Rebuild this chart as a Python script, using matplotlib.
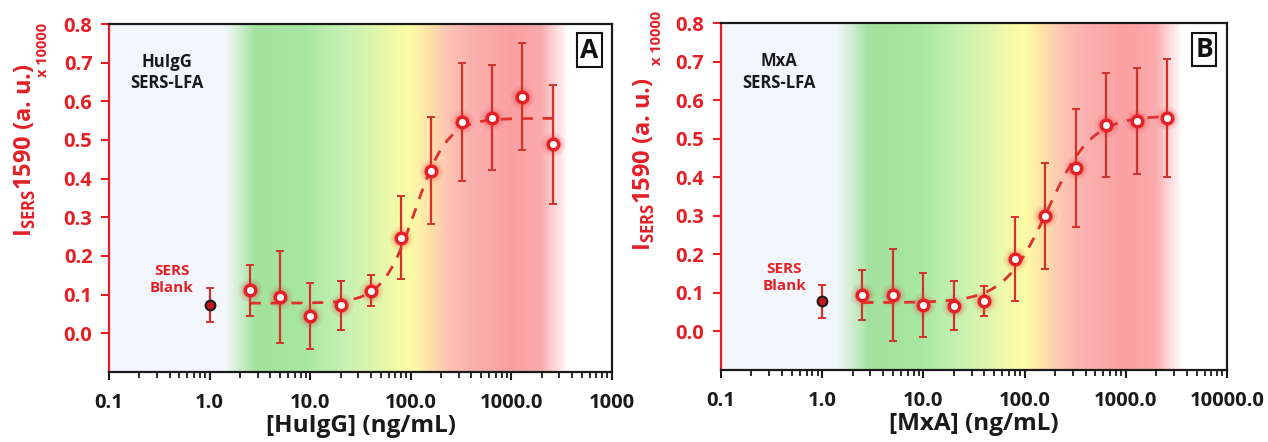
import numpy as np
import matplotlib
matplotlib.use("Agg")
import matplotlib.pyplot as plt
from matplotlib.colors import LinearSegmentedColormap, to_rgb

plt.rcParams['font.family'] = ['Open Sans', 'DejaVu Sans']
plt.rcParams['font.weight'] = 'bold'
plt.rcParams['mathtext.fontset'] = 'custom'
plt.rcParams['mathtext.rm'] = 'Open Sans:bold'
plt.rcParams['mathtext.bf'] = 'Open Sans:bold'

# ---- data -------------------------------------------------------------
conc = [2.5, 5, 10, 20, 40, 80, 160, 320, 640, 1280, 2560]   # ng/mL
blank_x = 1.0

hu_y = [0.111, 0.094, 0.044, 0.072, 0.110, 0.247, 0.421, 0.547, 0.558, 0.612, 0.489]
hu_err = [0.065, 0.120, 0.085, 0.063, 0.040, 0.107, 0.139, 0.152, 0.136, 0.139, 0.154]
hu_blank, hu_blank_err = 0.072, 0.044
# Hill fit: bottom, top, EC50, slope
hu_fit = (0.078, 0.556, 110.0, 2.7)

mx_y = [0.094, 0.094, 0.069, 0.067, 0.078, 0.188, 0.299, 0.424, 0.536, 0.547, 0.554]
mx_err = [0.065, 0.120, 0.084, 0.063, 0.039, 0.108, 0.138, 0.153, 0.136, 0.138, 0.154]
mx_blank, mx_blank_err = 0.078, 0.043
mx_fit = (0.075, 0.560, 170.0, 2.0)

x_ticks = [0.1, 1, 10, 100, 1000, 10000]
hu_xticklabels = ['0.1', '1.0', '10.0', '100.0', '1000.0', '1000']
mx_xticklabels = ['0.1', '1.0', '10.0', '100.0', '1000.0', '10000.0']
y_ticks = [0.0, 0.1, 0.2, 0.3, 0.4, 0.5, 0.6, 0.7, 0.8]

RED = '#e41f26'
ERR = '#d2322a'
INK = '#1a1a1a'

# background colour bands along log10(concentration)
band_stops = [(-1.0, '#f3f6fa'), (0.15, '#f3f6fa'), (0.45, '#a2e29d'),
              (0.95, '#a7e6a1'), (1.3, '#c3f0b1'), (1.6, '#dbf5ae'),
              (1.85, '#f2f9a8'), (2.0, '#fcfca6'), (2.2, '#fde0a9'),
              (2.38, '#fdc3b2'), (2.6, '#fbb0b0'), (3.0, '#fa9fa2'),
              (3.3, '#fbabad'), (3.57, '#ffffff'), (4.0, '#ffffff')]


def hill(x, bottom, top, ec50, slope):
    return bottom + (top - bottom) / (1.0 + (ec50 / x) ** slope)


def draw_bands(ax, n=500):
    pos = [(s + 1.0) / 5.0 for s, _ in band_stops]
    cmap = LinearSegmentedColormap.from_list(
        'bands', list(zip(pos, [to_rgb(c) for _, c in band_stops])))
    edges = np.logspace(-1, 4, n + 1)
    colors = cmap((np.arange(n) + 0.5) / n)
    for i in range(n):
        ax.axvspan(edges[i], edges[i + 1], color=colors[i], lw=0, zorder=0)


def panel(ax, y, err, blank, blank_err, fit, xticklabels, name, letter):
    ax.set_xscale('log')
    ax.set_xlim(0.1, 10000)
    ax.set_ylim(-0.1, 0.8)
    draw_bands(ax)

    # glow halos behind the points
    for s, a in [(300, 0.08), (190, 0.13), (120, 0.24)]:
        ax.scatter(conc, y, s=s, color=RED, alpha=a, lw=0, zorder=2)
    ax.errorbar(conc, y, yerr=err, fmt='none', ecolor=ERR, elinewidth=1.6,
                capsize=3, capthick=1.4, zorder=3)
    ax.errorbar([blank_x], [blank], yerr=[blank_err], fmt='none', ecolor=ERR,
                elinewidth=1.6, capsize=3, capthick=1.4, zorder=3)
    xf = np.logspace(np.log10(conc[0]), np.log10(conc[-1]), 300)
    ax.plot(xf, hill(xf, *fit), ls=(0, (4, 3.5)), color='#e0302c', lw=2.0, zorder=4)
    ax.plot(conc, y, 'o', ms=7.5, mfc='white', mec=RED, mew=2.4, zorder=5)
    ax.plot([blank_x], [blank], 'o', ms=7, mfc='#c01818', mec=INK, mew=1.5, zorder=5)

    ax.set_xticks(x_ticks)
    ax.set_xticklabels(xticklabels)
    ax.set_yticks(y_ticks)
    ax.set_yticklabels([f'{v:.1f}' for v in y_ticks])
    ax.tick_params(axis='x', which='major', length=6, width=1.5, colors=INK,
                   labelsize=14.5, pad=9)
    ax.tick_params(axis='x', which='minor', length=4, width=1.3, colors=INK)
    ax.tick_params(axis='y', which='major', length=6, width=1.5, colors=RED,
                   labelcolor=RED, labelsize=14.5, pad=6)
    for side in ['top', 'right', 'bottom']:
        ax.spines[side].set_color(INK)
        ax.spines[side].set_linewidth(1.6)
    ax.spines['left'].set_color(RED)
    ax.spines['left'].set_linewidth(1.6)
    for lab in ax.get_xticklabels() + ax.get_yticklabels():
        lab.set_fontweight('bold')

    ax.set_xlabel(f'[{name}] (ng/mL)', fontsize=17.5, fontweight='bold',
                  color=INK, labelpad=1)
    ax.text(0.115, 0.86, f'{name}\nSERS-LFA', transform=ax.transAxes,
            ha='center', va='center', fontsize=12, fontweight='bold',
            color=INK, linespacing=1.25)
    ax.text(0.42, 0.14, 'SERS\nBlank', ha='center', va='center', fontsize=11,
            fontweight='bold', color=RED, linespacing=1.3)
    ax.text(0.955, 0.925, letter, transform=ax.transAxes, ha='center',
            va='center', fontsize=19, fontweight='bold', color='#111111',
            bbox=dict(boxstyle='square,pad=0.12', fc='white', ec='#111111', lw=1.5))


fig = plt.figure(figsize=(12.68, 4.42), dpi=100)
axA = fig.add_axes([0.0860, 0.1584, 0.3967, 0.7873])
axB = fig.add_axes([0.5686, 0.1629, 0.3991, 0.7844])

panel(axA, hu_y, hu_err, hu_blank, hu_blank_err, hu_fit, hu_xticklabels, 'HuIgG', 'A')
panel(axB, mx_y, mx_err, mx_blank, mx_blank_err, mx_fit, mx_xticklabels, 'MxA', 'B')

ylab = r'I$_{\mathregular{SERS}}$1590 (a. u.)'
fig.text(0.020, 0.660, ylab, rotation=90, ha='center', va='center',
         fontsize=17, fontweight='bold', color=RED)
fig.text(0.034, 0.888, 'x 10000', rotation=90, ha='center', va='center',
         fontsize=10.5, fontweight='bold', color=RED)
fig.text(0.5085, 0.628, ylab, rotation=90, ha='center', va='center',
         fontsize=17, fontweight='bold', color=RED)
fig.text(0.518, 0.914, 'x 10000', rotation=90, ha='center', va='center',
         fontsize=10.5, fontweight='bold', color=RED)

fig.savefig('out.png', dpi=100)
